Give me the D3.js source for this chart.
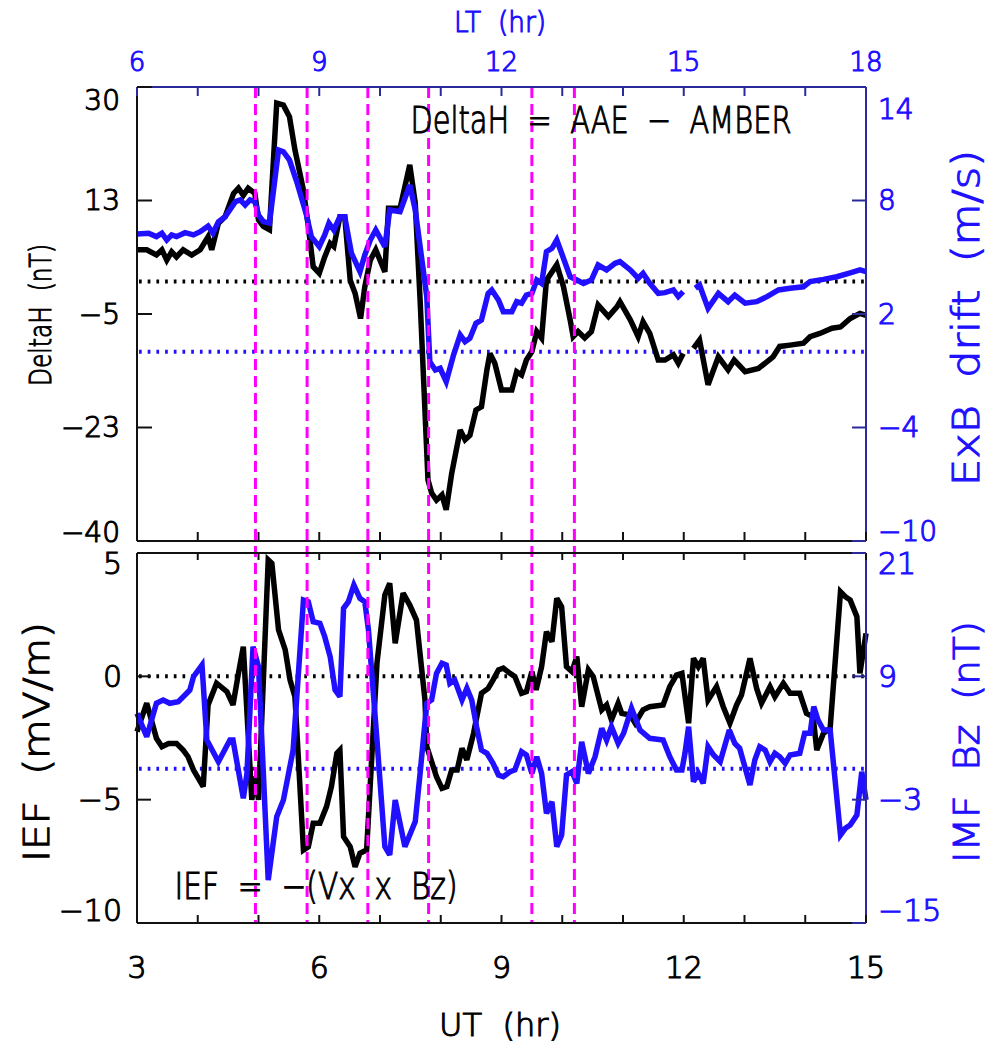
<!DOCTYPE html>
<html><head><meta charset="utf-8">
<script src="https://cdn.jsdelivr.net/npm/d3@7"></script>
<style>body{margin:0;background:#fff} text{font-family:"DejaVu Sans",sans-serif;white-space:pre}</style>
</head><body><svg id="c" width="988" height="1052"></svg>
<script>
// ---- data ----
const utTicks = [3, 6, 9, 12, 15];
const ltLabels = ["6", "9", "12", "15", "18"];
const utMinor = [3,4,5,6,7,8,9,10,11,12,13,14,15];
const dhTickVals = [30, 12.5, -5, -22.5, -40];
const dhTickLabels = ["30", "13", "−5", "−23", "−40"];
const exbTicks = [14, 8, 2, -4, -10];
const iefTicks = [5, 0, -5, -10];
const bzTicks = [21, 9, -3, -15];
const eventUT = [4.95, 5.8, 6.8, 7.8, 9.5, 10.2];

// DeltaH (nT) top panel, black
const dhT = [3.00,3.16,3.32,3.41,3.49,3.57,3.65,3.76,3.90,4.04,4.17,4.23,4.34,4.45,4.59,4.67,4.75,4.83,4.94,5.00,5.08,5.18,5.30,5.41,5.51,5.60,5.74,5.82,5.90,6.00,6.09,6.18,6.24,6.34,6.42,6.51,6.59,6.68,6.75,6.84,6.93,7.08,7.14,7.33,7.49,7.58,7.66,7.79,7.85,7.93,8.02,8.09,8.18,8.32,8.40,8.48,8.58,8.67,8.76,8.81,8.89,9.00,9.17,9.25,9.33,9.41,9.50,9.58,9.66,9.74,9.91,10.02,10.13,10.18,10.26,10.37,10.48,10.59,10.76,10.90,10.95,11.12,11.25,11.33,11.44,11.58,11.69,11.83,11.91,11.99,12.07,12.16,12.26,12.40,12.57,12.73,12.83,13.01,13.23,13.47,13.58,13.75,13.97,14.08,14.24,14.44,14.58,14.74,14.90,15.00];
const dhV = [4.9,4.9,4.1,4.9,3.3,4.6,3.8,4.9,4.1,4.9,6.9,4.9,9.0,10.0,13.6,14.4,13.3,14.4,13.6,9.5,8.5,8.0,27.5,27.2,25.4,20.3,14.1,8.5,2.3,1.3,3.8,5.9,5.4,10.0,10.0,0.2,-1.8,-5.7,-0.8,3.3,4.9,1.5,11.3,11.3,18.0,12.1,-2.8,-30.6,-32.6,-33.7,-32.9,-35.2,-29.6,-22.9,-24.4,-23.7,-19.8,-19.3,-13.6,-11.1,-12.6,-16.7,-16.7,-13.9,-14.4,-12.1,-10.8,-7.7,-8.7,0.2,2.6,-0.8,-5.9,-8.5,-7.7,-8.7,-7.7,-3.6,-5.4,-3.9,-3.1,-5.9,-8.5,-6.2,-8.0,-12.1,-12.1,-11.3,-12.6,-11.1,null,-10.3,-9.0,-15.9,-11.6,-13.6,-12.1,-13.9,-13.4,-11.6,-10.0,-9.8,-9.5,-8.5,-8.0,-7.2,-7.0,-5.7,-4.9,-5.2];

// ExB drift (m/s) top panel, blue
const exbT = [3.00,3.19,3.32,3.41,3.49,3.57,3.65,3.79,3.93,4.04,4.17,4.25,4.34,4.45,4.62,4.70,4.78,4.86,4.94,5.00,5.08,5.18,5.33,5.41,5.51,5.63,5.79,5.87,6.00,6.09,6.16,6.24,6.34,6.42,6.53,6.67,6.75,6.84,6.93,7.08,7.16,7.33,7.49,7.58,7.77,7.82,7.91,7.99,8.09,8.21,8.32,8.40,8.48,8.58,8.67,8.78,8.84,8.95,9.03,9.17,9.25,9.33,9.41,9.50,9.58,9.66,9.74,9.83,9.91,9.99,10.13,10.24,10.35,10.48,10.59,10.73,10.87,10.95,11.12,11.25,11.33,11.44,11.58,11.69,11.83,11.91,11.99,12.09,12.19,12.26,12.40,12.57,12.73,12.84,13.01,13.20,13.37,13.56,13.75,13.97,14.08,14.30,14.52,14.74,14.90,15.00];
const exbV = [6.23,6.27,6.09,6.27,5.91,6.18,6.09,6.30,6.18,6.35,6.65,6.27,6.88,7.14,7.94,8.03,7.76,8.03,7.94,7.23,6.88,6.80,10.67,10.58,10.14,8.99,7.23,6.09,5.56,6.18,6.80,6.44,7.14,7.14,5.21,4.24,5.12,5.91,6.44,5.56,7.50,7.41,8.82,7.50,2.92,-0.52,-0.96,-0.87,-1.58,-0.17,0.89,0.54,0.72,1.51,1.68,3.09,3.27,2.74,2.12,2.12,2.65,2.57,3.00,3.09,3.80,3.62,5.29,5.47,5.91,5.21,3.97,3.80,3.62,3.80,4.59,4.33,4.68,4.77,4.33,3.89,4.15,3.62,3.09,3.13,3.27,2.92,3.18,null,3.36,3.53,2.30,3.09,2.65,3.00,2.57,2.65,2.92,3.27,3.36,3.44,3.71,3.83,3.97,4.18,4.33,4.24];

// IEF (mV/m) bottom panel, black
const iefT = [3.00,3.16,3.32,3.41,3.52,3.65,3.76,3.84,3.93,4.09,4.17,4.31,4.48,4.58,4.67,4.75,4.89,4.94,5.00,5.16,5.22,5.33,5.44,5.52,5.60,5.74,5.82,5.90,6.01,6.12,6.20,6.29,6.34,6.40,6.51,6.59,6.67,6.78,6.95,7.08,7.16,7.25,7.38,7.49,7.60,7.74,7.77,7.93,8.02,8.10,8.18,8.27,8.35,8.43,8.54,8.67,8.78,8.86,8.95,9.03,9.14,9.22,9.33,9.41,9.50,9.57,9.66,9.74,9.83,9.91,9.99,10.07,10.16,10.24,10.32,10.43,10.51,10.65,10.73,10.81,10.92,10.98,11.12,11.20,11.33,11.44,11.66,11.77,11.88,11.97,12.08,12.16,12.24,12.32,12.40,12.54,12.65,12.76,12.87,12.95,13.09,13.20,13.28,13.42,13.50,13.64,13.75,13.91,14.02,14.13,14.19,14.30,14.41,14.58,14.66,14.74,14.85,14.90,15.00];
const iefV = [-2.24,-1.09,-2.51,-2.85,-2.72,-2.72,-2.99,-3.26,-3.80,-4.47,-1.16,-0.28,-0.62,-1.16,0.12,1.20,-5.01,-4.07,-5.01,4.72,4.58,1.88,1.07,-0.15,-0.83,-7.04,-6.91,-5.96,-5.96,-5.28,-4.47,-3.12,-2.99,-6.50,-6.91,-7.72,-7.17,-7.04,0.53,3.30,3.77,1.34,3.37,2.89,2.28,-0.96,-2.85,-4.07,-4.54,-4.47,-3.80,-3.80,-2.92,-3.39,-2.31,-0.69,-0.49,-0.15,0.26,0.33,0.12,-0.01,-0.69,-0.62,0.19,-0.55,0.39,1.81,1.40,3.16,2.82,0.39,0.19,0.80,-1.23,0.26,-0.01,-1.36,-1.16,-1.77,-1.09,-1.50,-1.57,-1.90,-1.36,-1.23,-1.16,-0.42,0.05,0.12,-1.90,0.73,0.39,0.73,-0.96,-0.42,-1.23,-1.90,-1.16,-0.76,0.73,-0.49,-1.09,-0.42,-0.83,-0.28,-0.69,-0.69,-1.50,-1.64,-2.99,-2.31,-2.10,3.43,3.23,3.09,2.42,0.12,1.74];

// IMF Bz (nT) bottom panel, blue
const bzT = [3.00,3.16,3.32,3.43,3.54,3.68,3.79,3.87,3.93,4.07,4.15,4.34,4.53,4.58,4.75,4.81,4.91,5.00,5.16,5.30,5.41,5.57,5.74,5.82,5.90,6.01,6.09,6.18,6.26,6.34,6.40,6.48,6.57,6.67,6.75,6.81,6.95,7.08,7.16,7.25,7.41,7.58,7.66,7.77,7.85,7.93,8.02,8.09,8.15,8.23,8.35,8.43,8.51,8.59,8.67,8.76,8.86,8.95,9.03,9.14,9.22,9.33,9.41,9.50,9.58,9.66,9.74,9.83,9.91,9.99,10.07,10.16,10.24,10.32,10.43,10.54,10.65,10.73,10.81,10.92,11.01,11.14,11.28,11.44,11.66,11.77,11.88,11.97,12.02,12.08,12.16,12.24,12.32,12.40,12.49,12.60,12.75,12.84,12.92,13.09,13.17,13.25,13.34,13.42,13.50,13.58,13.67,13.75,13.91,13.99,14.08,14.14,14.21,14.30,14.41,14.58,14.66,14.74,14.85,14.93,15.00];
const bzV = [5.40,3.13,6.38,6.70,6.38,6.53,7.18,7.67,8.96,10.10,2.80,0.69,2.80,2.80,-2.87,-0.44,11.88,9.94,-10.82,-4.66,-3.03,1.83,16.43,16.26,14.32,14.16,12.86,10.91,7.67,7.02,15.62,16.26,17.89,16.59,16.26,13.51,2.80,-7.58,-8.38,-3.03,-7.58,-5.14,-0.44,6.38,6.70,9.29,10.27,10.10,8.32,8.64,6.70,7.84,6.70,4.10,1.83,1.51,0.54,-0.60,-0.77,-0.28,-0.11,1.67,1.35,-0.44,1.18,-0.44,-4.33,-3.20,-7.58,-6.44,-0.60,-0.28,-1.41,2.64,-0.44,1.18,3.94,2.80,4.10,2.48,3.46,5.89,3.78,2.97,2.80,1.18,-0.11,-0.11,1.51,4.10,-1.25,-0.44,-1.41,2.15,1.35,0.69,3.78,2.48,2.00,-1.57,0.86,2.15,1.83,0.69,1.51,1.18,0.54,1.35,1.51,3.46,3.46,6.05,4.75,3.78,3.78,-6.44,-5.79,-5.47,-4.49,-0.28,-3.03];

// ---- drawing ----
const svg = d3.select("#c");
const BLUE = "#2010ff", NAVY = "#2a2a9c", MAG = "#ff00ff";
const L = 137, R = 866, T1 = 87, B1 = 541, T2 = 553, B2 = 923;
const x = d3.scaleLinear([3, 15], [L, R]);
const yDH = d3.scaleLinear([-40, 30], [B1, T1]);
const yE = d3.scaleLinear([-10, 14], [B1, T1]);
const yI = d3.scaleLinear([-10, 5], [B2, T2]);
const yB = d3.scaleLinear([-15, 21], [B2, T2]);

const zip = (t, v) => t.map((d, i) => [d, v[i]]);
function drawLine(t, v, ys, color) {
  svg.append("path").datum(zip(t, v))
    .attr("fill", "none").attr("stroke", color).attr("stroke-width", 5.5)
    .attr("stroke-linejoin", "miter").attr("stroke-miterlimit", 3)
    .attr("d", d3.line().defined(d => d[1] != null).x(d => x(d[0])).y(d => ys(d[1])));
}
function hdot(yv, color) {
  svg.append("line").attr("x1", L + 2).attr("x2", R).attr("y1", yv).attr("y2", yv)
    .attr("stroke", color).attr("stroke-width", 4).attr("stroke-dasharray", "2.7,6");
}

// zero reference lines
hdot(yDH(0), "#000"); hdot(yE(0), BLUE);
hdot(yI(0), "#000"); hdot(yB(0), BLUE);

// data
drawLine(dhT, dhV, yDH, "#000");
drawLine(exbT, exbV, yE, BLUE);
drawLine(iefT, iefV, yI, "#000");
drawLine(bzT, bzV, yB, BLUE);

// event lines
svg.selectAll(".ev").data(eventUT).enter().append("line")
  .attr("x1", d => x(d)).attr("x2", d => x(d)).attr("y1", T1).attr("y2", B2)
  .attr("stroke", MAG).attr("stroke-width", 3).attr("stroke-dasharray", "11,6");

// frames & ticks
function frame(top, bot, topColor, rightColor) {
  svg.append("line").attr("x1", L).attr("x2", L).attr("y1", top).attr("y2", bot).attr("stroke", "#111").attr("stroke-width", 2);
  svg.append("line").attr("x1", L).attr("x2", R).attr("y1", bot).attr("y2", bot).attr("stroke", "#111").attr("stroke-width", 2);
  svg.append("line").attr("x1", L).attr("x2", R).attr("y1", top).attr("y2", top).attr("stroke", topColor).attr("stroke-width", 2);
  svg.append("line").attr("x1", R).attr("x2", R).attr("y1", top).attr("y2", bot).attr("stroke", rightColor).attr("stroke-width", 2);
}
frame(T1, B1, NAVY, NAVY);
frame(T2, B2, "#111", NAVY);

function xTicks(yv, len, color) {
  svg.append("g").selectAll("line").data(utMinor).enter().append("line")
    .attr("x1", d => x(d)).attr("x2", d => x(d)).attr("y1", yv).attr("y2", yv + len)
    .attr("stroke", color).attr("stroke-width", 2);
}
xTicks(T1, 9, NAVY); xTicks(B1, -9, "#111");
xTicks(T2, 7, "#111"); xTicks(B2, -8, "#111");

function yTicks(vals, ys, xpos, len, color) {
  svg.append("g").selectAll("line").data(vals).enter().append("line")
    .attr("x1", xpos).attr("x2", xpos + len).attr("y1", d => ys(d)).attr("y2", d => ys(d))
    .attr("stroke", color).attr("stroke-width", 2);
}
yTicks(dhTickVals, yDH, L, 15, "#111");
yTicks(exbTicks, yE, R, -14, NAVY);
yTicks(iefTicks, yI, L, 14, "#111");
yTicks(bzTicks, yB, R, -14, NAVY);

// text style helper: thin stroked look (Hershey-like)
function styl(t, color, fs) {
  return t.attr("fill", color).attr("font-size", fs).attr("font-weight", 300)
    .attr("stroke", color).attr("stroke-width", 1.1);
}

// tick labels
const minus = s => String(s).replace("-", "−");
function yLabels(vals, labels, ys, xpos, anchor, color, fs, topOff, botOff) {
  const g = svg.append("g");
  vals.forEach((d, i) => {
    const t = g.append("text")
      .attr("x", xpos).attr("y", ys(d) + (i === 0 ? topOff : (i === vals.length - 1 ? botOff : 0)))
      .attr("text-anchor", anchor).attr("dominant-baseline", "central").text(labels[i]);
    styl(t, color, fs);
  });
}
yLabels(dhTickVals, dhTickLabels, yDH, 120, "end", "#000", 28, 13, -9);
yLabels(exbTicks, exbTicks.map(minus), yE, 878, "start", BLUE, 28, 22, -10);
yLabels(iefTicks, iefTicks.map(minus), yI, 122, "end", "#000", 30, 10, -13);
yLabels(bzTicks, bzTicks.map(minus), yB, 878, "start", BLUE, 30, 10, -13);

utTicks.forEach((d, i) => {
  styl(svg.append("text").attr("x", x(d)).attr("y", 62).attr("text-anchor", "middle")
    .attr("dominant-baseline", "central").text(ltLabels[i]), BLUE, 26);
  styl(svg.append("text").attr("x", x(d)).attr("y", 967).attr("text-anchor", "middle")
    .attr("dominant-baseline", "central").text(d), "#000", 30);
});

// titles
function txt(s, xp, yp, fs, color, rot, len) {
  const t = svg.append("text").attr("text-anchor", "middle").attr("dominant-baseline", "central").text(s);
  styl(t, color, fs);
  if (rot) t.attr("transform", `translate(${xp},${yp}) rotate(-90)`);
  else t.attr("x", xp).attr("y", yp);
  if (len) t.attr("textLength", len).attr("lengthAdjust", "spacingAndGlyphs");
  return t;
}
txt("LT  (hr)", 500, 22, 28, BLUE, false, 92);
txt("UT  (hr)", 500, 1025, 32, "#000", false, 122);
txt("DeltaH  (nT)", 40, 315, 31, "#000", true, 142);
txt("ExB  drift  (m/s)", 966, 318, 37, BLUE, true, 336);
txt("IEF  (mV/m)", 36, 742, 36, "#000", true, 240);
txt("IMF  Bz  (nT)", 966, 742, 36, BLUE, true, 242);
txt("DeltaH  =  AAE  −  AMBER", 601, 120, 38, "#000", false, 381);
txt("IEF  =  −(Vx  x  Bz)", 316, 886, 37, "#000", false, 283);
</script></body></html>
